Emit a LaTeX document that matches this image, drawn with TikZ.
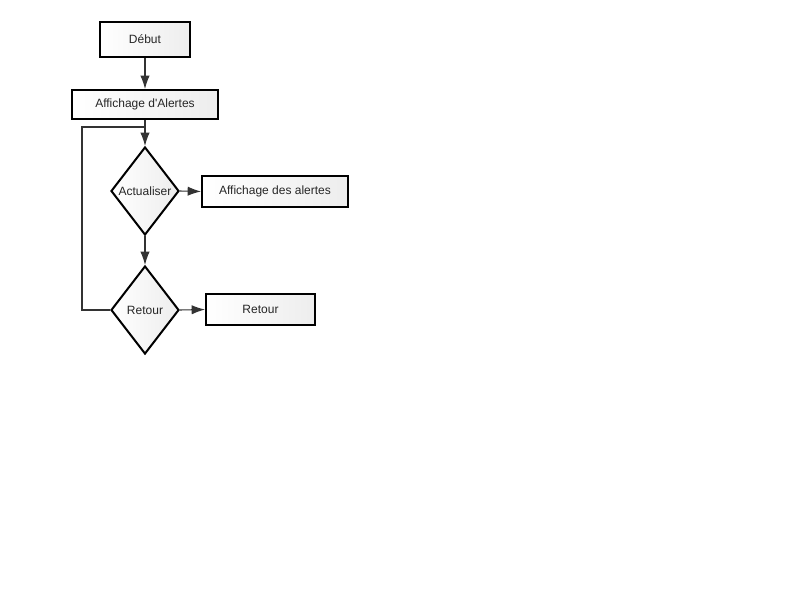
\documentclass[tikz,border=0pt]{standalone}
\usepackage{fontspec}
\setmainfont{Liberation Sans}
\usetikzlibrary{shapes.geometric,arrows.meta}
\begin{document}
\begin{tikzpicture}[x=0.75pt,y=-0.75pt,
  box/.style={draw=black,line width=1.5pt,rectangle,left color=white,right color=black!7,inner sep=0pt,font=\fontsize{9pt}{11pt}\selectfont,text=black!85},
  dec/.style={draw=black,line width=1.5pt,diamond,left color=white,right color=black!7,inner sep=0pt,minimum width=68*0.75pt,minimum height=88*0.75pt,font=\fontsize{9pt}{11pt}\selectfont,text=black!85},
  conn/.style={draw=black!80,line width=0.8pt},
  arr/.style={conn,-{Latex[length=10pt,width=7pt]}}]
\useasboundingbox (0,0) rectangle (800,600);
\node[box,minimum width=90*0.75pt,minimum height=35*0.75pt] (debut) at (145,39.5) {Début};
\node[box,minimum width=146*0.75pt,minimum height=29*0.75pt] (aff) at (145,104.5) {Affichage d\textquotesingle Alertes};
\node[dec] (act) at (145,191) {Actualiser};
\node[box,minimum width=146*0.75pt,minimum height=31*0.75pt] (affdes) at (275,191.5) {Affichage des alertes};
\node[dec] (ret) at (145,310) {Retour};
\node[box,minimum width=109*0.75pt,minimum height=31*0.75pt] (retbox) at (260.5,309.5) {Retour};
\coordinate (c1) at (82,310);
\coordinate (c2) at (82,127);
\coordinate (c3) at (145,127);
\draw[arr] (debut) -- (aff);
\draw[arr] (aff) -- (act);
\draw[arr] (act.east) -- (affdes.west);
\draw[arr] (act.south) -- (ret.north);
\draw[arr] (ret.east) -- (retbox.west);
\draw[conn] (ret.west) -- (c1) -- (c2) -- (c3);
\end{tikzpicture}
\end{document}
